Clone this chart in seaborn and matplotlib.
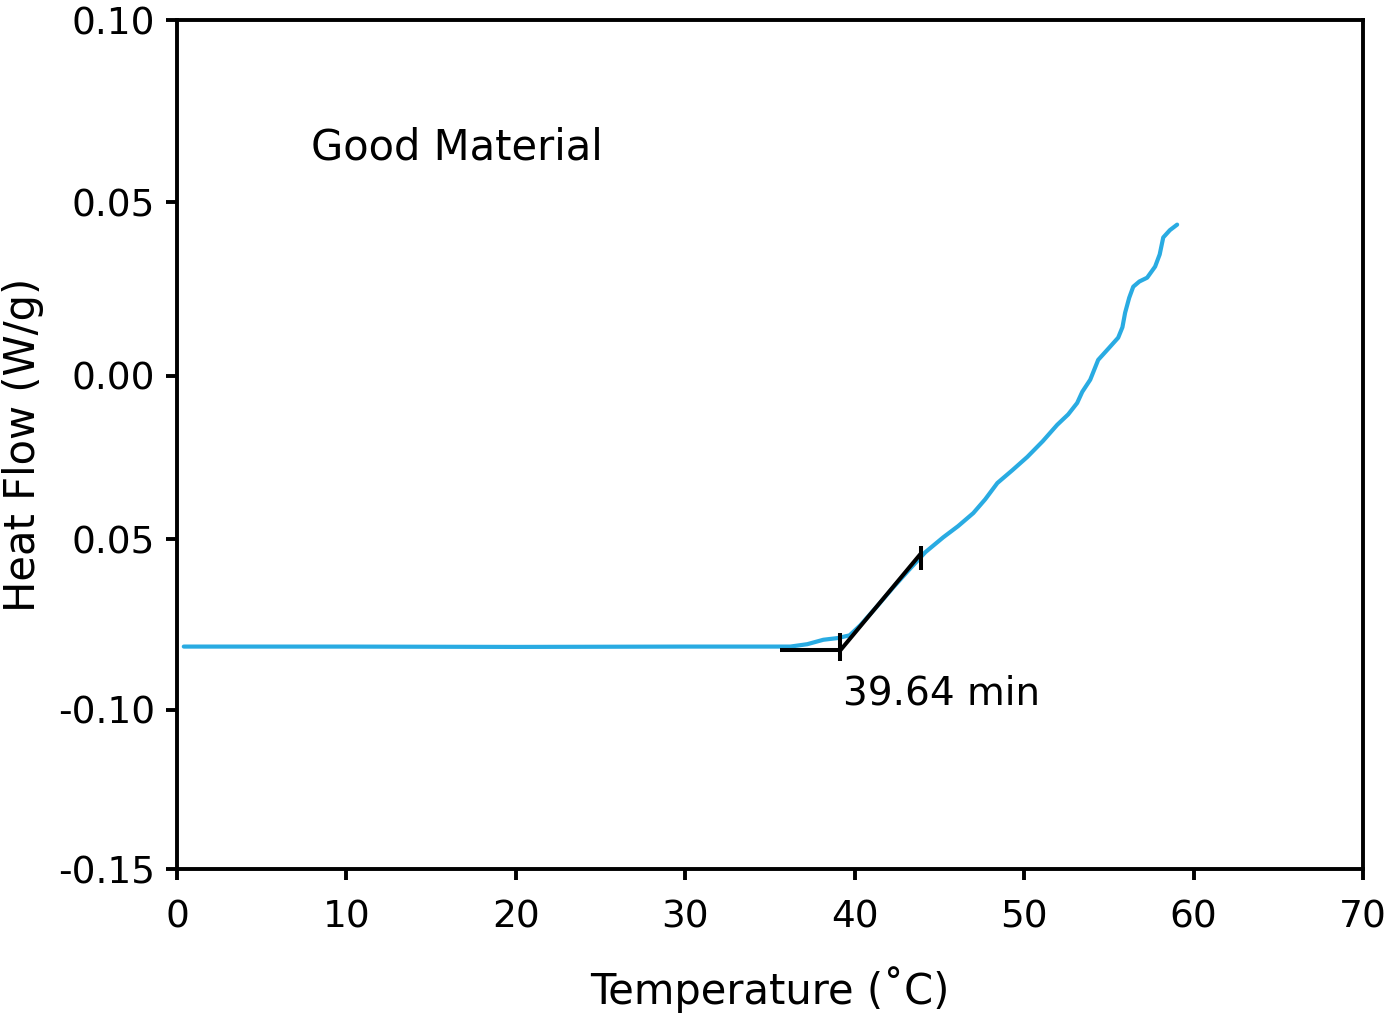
import numpy as np
import seaborn as sns
import matplotlib.pyplot as plt
import pandas as pd

# heat flow curve
temp = [0.4, 10.0, 20.0, 30.0, 36.2, 37.2, 38.15, 39.0, 39.7, 40.34, 41.3, 42.28, 43.2, 44.17,
        45.23, 46.1, 47.0, 47.7, 48.42, 49.3, 50.19, 51.1, 51.95, 52.6, 53.13, 53.43,
        53.9, 54.37, 55.0, 55.55, 55.8, 55.96, 56.2, 56.44, 56.8, 57.26, 57.73, 58.0,
        58.21, 58.6, 59.03]
heat = [-0.0815, -0.0815, -0.0816, -0.0815, -0.0815, -0.0808, -0.0795, -0.0790, -0.0782,
        -0.0752, -0.0698, -0.0641, -0.0590, -0.0538, -0.0494, -0.0460, -0.0420, -0.0378,
        -0.0328, -0.0289, -0.0248, -0.0200, -0.0150, -0.0118, -0.0083, -0.0049, -0.0012,
        0.0046, 0.0080, 0.0110, 0.0140, 0.0182, 0.0225, 0.0257, 0.0272, 0.0283, 0.0315,
        0.0350, 0.0399, 0.0420, 0.0436]

# onset construction
base_x = [35.6, 39.15]
base_y = [-0.0826, -0.0826]
tan_x = [39.15, 43.92]
tan_y = [-0.0826, -0.0541]
mark_x = [39.15, 43.92]
mark_lo = [-0.0856, -0.0591]
mark_hi = [-0.0774, -0.0521]

# y axis as drawn in the figure (tick values and where they sit)
ytick_vals = [-0.15, -0.10, -0.05, 0.00, 0.05, 0.10]
ytick_labels = ["-0.15", "-0.10", "0.05", "0.00", "0.05", "0.10"]
ytick_pos = [868, 709, 539, 376, 203, 21]
xticks = [0, 10, 20, 30, 40, 50, 60, 70]

sns.set_style("ticks")
plt.rcParams['font.family'] = ['DejaVu Sans']
plt.rcParams['text.color'] = 'black'
plt.rcParams['axes.labelcolor'] = 'black'
plt.rcParams['xtick.color'] = 'black'
plt.rcParams['ytick.color'] = 'black'

fig, ax = plt.subplots(figsize=(13.88, 10.13), dpi=100)
fig.subplots_adjust(left=177/1388, right=1363/1388, top=1-20/1013, bottom=1-869/1013)

pix_asc = np.array(ytick_pos[::-1], dtype=float)
val_desc = np.array(ytick_vals[::-1])
def fwd(v):
    return -np.interp(v, ytick_vals, ytick_pos)
def inv(p):
    return np.interp(-np.asarray(p), pix_asc, val_desc)
ax.set_yscale('function', functions=(fwd, inv))

df = pd.DataFrame({'temp': temp, 'heat': heat})
sns.lineplot(data=df, x='temp', y='heat', ax=ax, color='#29abe2', lw=3.0, sort=False)

ax.plot(base_x, base_y, color='black', lw=2.9, solid_capstyle='butt')
ax.plot(tan_x, tan_y, color='black', lw=2.9, solid_capstyle='butt')
ax.vlines(mark_x, mark_lo, mark_hi, color='black', lw=2.9)

ax.text(7.9, 0.0651, "Good Material", fontsize=30, va='center', ha='left')
ax.text(39.3, -0.0953, "39.64 min", fontsize=28, va='center', ha='left')

ax.set_xlim(0, 70)
ax.set_ylim(-0.15, 0.10)
ax.set_xticks(xticks)
ax.set_yticks(ytick_vals)
ax.set_yticklabels(ytick_labels)
ax.set_xlabel("Temperature (˚C)", fontsize=30, labelpad=22)
ax.set_ylabel("Heat Flow (W/g)", fontsize=30, labelpad=10)
ax.tick_params(axis='both', labelsize=27, width=2.8, length=8, direction='out', pad=8)
ax.tick_params(axis='x', pad=14)
for s in ax.spines.values():
    s.set_linewidth(2.8)
    s.set_color('black')

fig.savefig("out.png", dpi=100)
